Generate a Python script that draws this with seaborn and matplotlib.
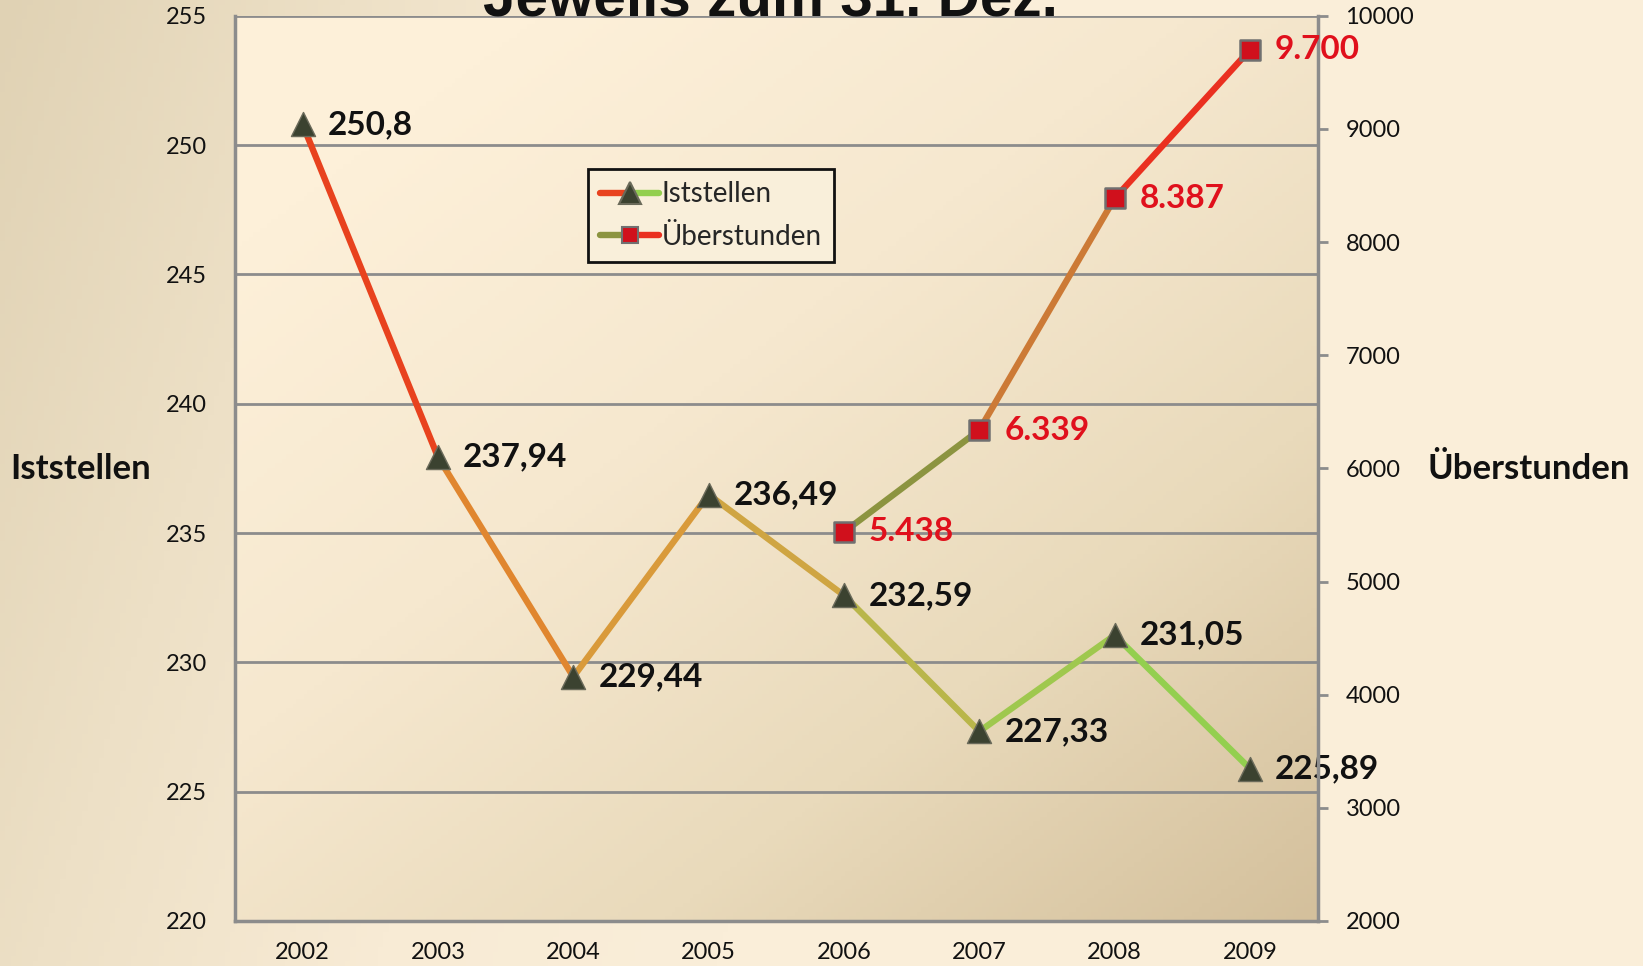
import numpy as np
import matplotlib
matplotlib.use("Agg")
import matplotlib.pyplot as plt
import seaborn as sns
from matplotlib.lines import Line2D
from matplotlib.legend_handler import HandlerBase
from matplotlib.colors import LinearSegmentedColormap

# ---- data ----
years = ["2002", "2003", "2004", "2005", "2006", "2007", "2008", "2009"]
iststellen = [250.8, 237.94, 229.44, 236.49, 232.59, 227.33, 231.05, 225.89]
ist_labels = ["250,8", "237,94", "229,44", "236,49", "232,59", "227,33", "231,05", "225,89"]
ueber_years = ["2006", "2007", "2008", "2009"]
ueberstunden = [5438, 6339, 8387, 9700]
ueber_labels = ["5.438", "6.339", "8.387", "9.700"]
left_ticks = [220, 225, 230, 235, 240, 245, 250, 255]
right_ticks = [2000, 3000, 4000, 5000, 6000, 7000, 8000, 9000, 10000]

# segment colours (gradient look)
ist_seg_colors = ["#e8421e", "#e0862f", "#d99a3a", "#cfa542", "#b9b64a", "#9fc84e", "#93cf4f"]
ueb_seg_colors = ["#8c9440", "#cc7a36", "#ea3020"]

sns.set_theme(style="white")
plt.rcParams["font.family"] = ["Lato", "DejaVu Sans"]

fig = plt.figure(figsize=(16.43, 9.66), dpi=100)

# figure background gradient
bg = fig.add_axes([0, 0, 1, 1], zorder=-5)
bg.axis("off")
gx = np.linspace(0, 1, 300)
gy = np.linspace(0, 1, 200)
GX, GY = np.meshgrid(gx, gy)
gval = np.clip(GX * 1.6 + GY * 0.3, 0, 1)
bg_cmap = LinearSegmentedColormap.from_list("bgc", ["#e0d2b4", "#ede0c6", "#f8ebd5", "#faeed9"])
bg.imshow(gval, cmap=bg_cmap, extent=[0, 1, 0, 1], aspect="auto", origin="upper", vmin=0, vmax=1)
bg.set_xlim(0, 1); bg.set_ylim(0, 1)

ax = fig.add_axes([0.143, 0.0466, 0.659, 0.937])
ax.patch.set_alpha(0)
xpos = np.arange(len(years))

# plot-area gradient: light top-left, tan bottom-right
pval = np.clip(GX * 0.55 + GY * 0.6 - 0.15, 0, 1)
pl_cmap = LinearSegmentedColormap.from_list("plc", ["#fdf0d9", "#f6e8cf", "#e9dabb", "#d4c09c"])
ax.imshow(pval, cmap=pl_cmap, extent=[0, 1, 0, 1], transform=ax.transAxes,
          aspect="auto", origin="upper", vmin=0, vmax=1, zorder=-10)
ax.set_xlim(-0.5, len(years) - 0.5)
ax.set_ylim(220, 255)

ax.set_yticks(left_ticks)
ax.yaxis.grid(True, color="#8c8c8c", lw=2)
ax.xaxis.grid(False)
ax.set_xticks(xpos)
ax.set_xticklabels(years)
for s in ["left", "bottom"]:
    ax.spines[s].set_color("#8c8c8c")
    ax.spines[s].set_linewidth(2.5)
ax.spines["top"].set_visible(False)
ax.spines["right"].set_visible(False)
ax.tick_params(axis="y", length=0, pad=20, labelsize=17, labelcolor="#111111")
ax.tick_params(axis="x", length=0, pad=15, labelsize=17, labelcolor="#111111")

# Iststellen lines
for i in range(len(years) - 1):
    ax.plot(xpos[i:i + 2], iststellen[i:i + 2], color=ist_seg_colors[i], lw=4.6,
            solid_capstyle="round", zorder=3)
sns.scatterplot(x=xpos, y=iststellen, marker="^", s=300, color="#3b4230",
                edgecolor="#6a6a5a", linewidth=1, ax=ax, zorder=5, legend=False)
for xi, yi, lab in zip(xpos, iststellen, ist_labels):
    ax.annotate(lab, (xi, yi), xytext=(18, 0), textcoords="offset points",
                va="center", ha="left", fontsize=24, fontweight="bold",
                color="#111111", zorder=6, annotation_clip=False)

# Überstunden on twin axis
ax2 = ax.twinx()
ax2.set_ylim(2000, 10000)
ax2.set_yticks(right_ticks)
ax2.patch.set_visible(False)
for s in ["left", "top", "bottom"]:
    ax2.spines[s].set_visible(False)
ax2.spines["right"].set_color("#8c8c8c")
ax2.spines["right"].set_linewidth(2.5)
ax2.tick_params(axis="y", length=7, width=2, color="#8c8c8c", pad=13, labelsize=17,
                labelcolor="#111111")
ax2.grid(False)
ux = np.array([years.index(y) for y in ueber_years])
for i in range(len(ux) - 1):
    ax2.plot(ux[i:i + 2], ueberstunden[i:i + 2], color=ueb_seg_colors[i], lw=4.6,
             solid_capstyle="round", zorder=3)
sns.scatterplot(x=ux, y=ueberstunden, marker="s", s=190, color="#d0101c",
                edgecolor="#707070", linewidth=1.8, ax=ax2, zorder=5, legend=False)
for xi, yi, lab in zip(ux, ueberstunden, ueber_labels):
    ax2.annotate(lab, (xi, yi), xytext=(18, 0), textcoords="offset points",
                 va="center", ha="left", fontsize=24, fontweight="bold",
                 color="#e0101c", zorder=6, annotation_clip=False)
ax2.set_xlim(-0.5, len(years) - 0.5)


# legend with two-coloured lines
class TwoColorHandler(HandlerBase):
    def __init__(self, c1, c2, marker, mfc, mec, ms):
        super().__init__()
        self.c1, self.c2, self.marker, self.mfc, self.mec, self.ms = c1, c2, marker, mfc, mec, ms

    def create_artists(self, legend, orig_handle, xdescent, ydescent, width, height,
                       fontsize, trans):
        y = height / 2 - ydescent
        x0 = -xdescent
        l1 = Line2D([x0, x0 + width / 2], [y, y], color=self.c1, lw=4.6, transform=trans)
        l2 = Line2D([x0 + width / 2, x0 + width], [y, y], color=self.c2, lw=4.6, transform=trans)
        m = Line2D([x0 + width / 2], [y], marker=self.marker, ms=self.ms, mfc=self.mfc,
                   mec=self.mec, mew=1.5, lw=0, transform=trans)
        return [l1, l2, m]


h1 = Line2D([], [])
h2 = Line2D([], [])
leg = ax2.legend([h1, h2], ["Iststellen", "Überstunden"],
                 handler_map={h1: TwoColorHandler("#e8421e", "#93cf4f", "^", "#3b4230", "#6a6a5a", 16),
                              h2: TwoColorHandler("#8c9440", "#ea3020", "s", "#d0101c", "#707070", 12)},
                 loc="upper left", bbox_to_anchor=(0.326, 0.831), borderaxespad=0,
                 fontsize=20, frameon=True, fancybox=False, handlelength=2.1,
                 handletextpad=0.1, borderpad=0.45, labelspacing=0.6)
leg.get_frame().set_edgecolor("#111111")
leg.get_frame().set_linewidth(2)
leg.get_frame().set_facecolor("#f9efda")
leg.get_frame().set_alpha(1)

# axis titles
fig.text(10 / 1643, 1 - 469 / 966, "Iststellen", ha="left", va="center",
         fontsize=25, fontweight="bold", color="#111111")
fig.text(1427 / 1643, 1 - 469 / 966, "Überstunden", ha="left", va="center",
         fontsize=25, fontweight="bold", color="#111111")

# title at the top, cut by the figure edge as in the reference
fig.text(770 / 1643, 1 - 16 / 966, "Jeweils zum 31. Dez.", ha="center", va="baseline",
         fontsize=42, fontweight="bold", color="#111111", family=["Liberation Sans", "DejaVu Sans"])

fig.savefig("out.png", dpi=100)
